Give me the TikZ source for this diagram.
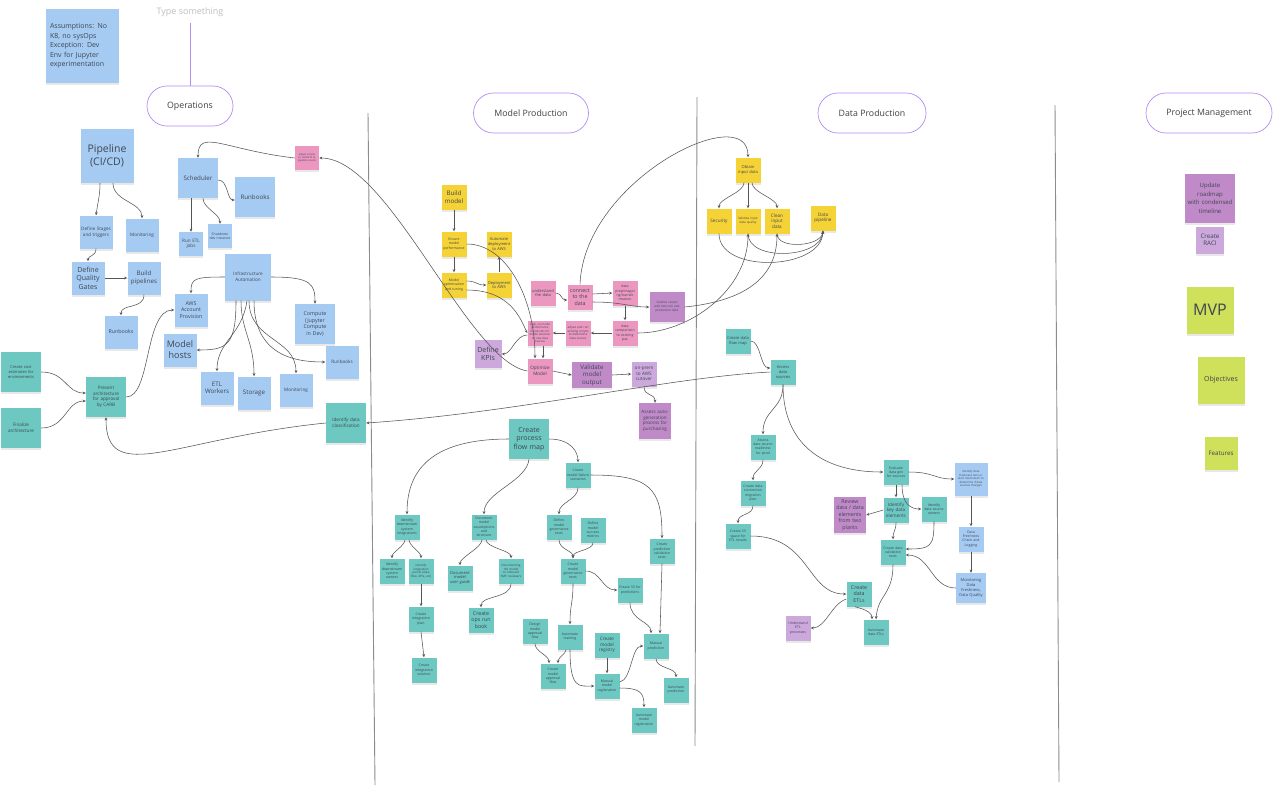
\documentclass[tikz,border=0pt]{standalone}
\usepackage{fontspec}
\setmainfont{Open Sans}
\usetikzlibrary{arrows.meta,shadows}

\definecolor{stickyblue}{HTML}{A6CBF3}
\definecolor{stickyteal}{HTML}{6CC8C1}
\definecolor{stickyyellow}{HTML}{F5D236}
\definecolor{stickypink}{HTML}{EB97C0}
\definecolor{stickyviolet}{HTML}{C08AC9}
\definecolor{stickylav}{HTML}{CDA8DC}
\definecolor{stickylime}{HTML}{CFE05A}
\definecolor{pillline}{HTML}{B48CF2}
\definecolor{linkgray}{HTML}{555555}
\definecolor{notetext}{HTML}{3E4652}

\hyphenpenalty=10000

\begin{document}
\begin{tikzpicture}[x=1pt, y=-1pt,
    link/.style={draw=linkgray, line width=0.55pt, -{Stealth[length=3.2pt,width=2.8pt]}},
    divider/.style={draw=black!45, line width=0.9pt},
    pill/.style={draw=pillline, line width=0.7pt, rounded corners=20pt, minimum height=40pt, text=black!75, font=\fontsize{8.8}{10.5}\selectfont},
    note/.style={inner sep=1.5pt, align=center, text=notetext, drop shadow={opacity=0.18, shadow xshift=0pt, shadow yshift=-2pt}},
    bl/.style={note, fill=stickyblue},
    tl/.style={note, fill=stickyteal},
    yl/.style={note, fill=stickyyellow},
    pk/.style={note, fill=stickypink},
    vi/.style={note, fill=stickyviolet},
    lv/.style={note, fill=stickylav},
    lm/.style={note, fill=stickylime},
    s24/.style={minimum width=24pt, minimum height=24pt, text width=21pt},
    s25/.style={minimum width=25pt, minimum height=25pt, text width=22pt},
    s33/.style={minimum width=33pt, minimum height=33pt, text width=30pt},
    s40/.style={minimum width=40pt, minimum height=40pt, text width=37pt},
    s47/.style={minimum width=47pt, minimum height=47pt, text width=44pt},
    f35/.style={font=\fontsize{3.5}{4.3}\selectfont},
    f4/.style={font=\fontsize{4}{4.9}\selectfont},
    f45/.style={font=\fontsize{4.6}{5.6}\selectfont},
    f5/.style={font=\fontsize{5.3}{6.5}\selectfont},
    f6/.style={font=\fontsize{6.2}{7.5}\selectfont},
    f7/.style={font=\fontsize{7}{8.5}\selectfont},
    f9/.style={font=\fontsize{9}{11}\selectfont},
    f10/.style={font=\fontsize{10.5}{12.5}\selectfont},
    f16/.style={font=\fontsize{16}{19}\selectfont}]

    \fill[white] (0,0) rectangle (1273,785);
    \useasboundingbox (0,0) rectangle (1273,785);

    \draw[divider] (368,113) -- (375,785);
    \draw[divider] (697,97) -- (695,746);
    \draw[divider] (1055,105) -- (1059,782);

    \node[bl, minimum width=73pt, minimum height=74pt, text width=64pt, align=left, font=\fontsize{7}{9.6}\selectfont] (assume) at (82,46) {Assumptions: No\\K8, no sysOps\\Exception: Dev\\Env for Jupyter\\experimentation};
    \node[font=\fontsize{9}{11}\selectfont, text=black!25] (typetxt) at (190,12) {Type something};
    \coordinate (tsend) at (190,23);
    \node[pill, minimum width=86pt] (ops) at (190,106) {Operations};
    \node[bl, minimum width=53pt, minimum height=54pt, text width=50pt, f10] (pipe) at (107,156) {Pipeline\\(CI/CD)};
    \node[bl, s40, f6] (sched) at (198,178) {Scheduler};
    \node[bl, s40, f6] (runA) at (255,197) {Runbooks};
    \node[pk, s24, font=\fontsize{2.6}{3.2}\selectfont] (adjpink) at (307,158) {adjust scripts to conform to pipeline needs};
    \node[bl, s33, f45] (stages) at (96,232) {Define Stages and triggers};
    \node[bl, s33, f45] (monA) at (142,235) {Monitoring};
    \node[bl, s33, f7] (gates) at (88,278) {Define Quality Gates};
    \node[bl, s33, f6] (build) at (144,278) {Build pipelines};
    \node[bl, s33, f5] (runB) at (121,332) {Runbooks};
    \node[bl, s24, f45] (etljobs) at (191,244) {Run ETL jobs};
    \node[bl, s24, f35] (shut) at (220,236) {Shutdown dev instance};
    \node[bl, minimum width=46pt, minimum height=47pt, text width=43pt, f45] (infra) at (248,277) {Infrastructure Automation};
    \node[bl, s33, f5] (aws) at (191,310) {AWS Account Provision};
    \node[bl, s40, f5] (compute) at (315,324) {Compute (Jupyter Compute in Dev)};
    \node[bl, s33, f9] (hosts) at (180,350) {Model hosts};
    \node[bl, s33, f45] (runC) at (342,362) {Runbooks};
    \node[bl, s33, f6] (etlw) at (217,388) {ETL Workers};
    \node[bl, s33, f6] (storage) at (254,393) {Storage};
    \node[bl, s33, f45] (monB) at (296,390) {Monitoring};
    \node[tl, s40, f4] (cost) at (21,372) {Create cost estimates for environments};
    \node[tl, s40, f45] (final) at (21,428) {Finalize architecture};
    \node[tl, s40, f45] (present) at (106,397) {Present architecture for approval by CARB};
    \node[tl, s40, f45] (classify) at (346,423) {Identify data classification};

    \node[pill, minimum width=115pt] (mprod) at (531,113) {Model Production};
    \node[yl, s25, f6] (bmodel) at (454,197) {Build model};
    \node[yl, s25, f35] (ensure) at (454,244) {Ensure model performance};
    \node[yl, s25, f4] (autodep) at (499,244) {Automate deployment to AWS};
    \node[yl, s25, f35] (mopt) at (454,285) {Model optimization and tuning};
    \node[yl, s25, f4] (deploy) at (499,285) {Deployment to AWS};
    \node[pk, s25, f4] (underst) at (543,293) {understand the data};
    \node[pk, s25, f5] (connect) at (580,297) {connect to the data};
    \node[pk, s25, f35] (prep) at (625,293) {data\\prep/mappi\\ng/transfo\\rmation};
    \node[vi, minimum width=35pt, minimum height=30pt, text width=32pt, font=\fontsize{3}{3.8}\selectfont] (sanit) at (667,307) {Sanitize scripts with test non and production data};
    \node[pk, s25, f35] (compare) at (625,333) {data comparison to existing pas};
    \node[pk, s25, font=\fontsize{3}{3.7}\selectfont] (adjust) at (578,333) {adjust and run existing scripts to determine data source};
    \node[pk, s25, font=\fontsize{2.8}{3.5}\selectfont] (align) at (540,333) {Align on model performance thresholds for model selection on new data sources};
    \node[lv, minimum width=27pt, minimum height=28pt, text width=24pt, f7] (kpis) at (488,354) {Define KPIs};
    \node[pk, s25, f45] (optim) at (540,371) {Optimize Model};
    \node[vi, minimum width=40pt, minimum height=26pt, text width=37pt, f6] (validm) at (592,375) {Validate model output};
    \node[lv, s25, f45] (cutover) at (644,374) {on-prem to AWS cutover};
    \node[vi, minimum width=32pt, minimum height=36pt, text width=29pt, f45] (assess) at (655,421) {Assess auto-generation process for purchasing};

    \node[tl, s40, f7] (cpfm) at (529,439) {Create process flow map};
    \node[tl, s25, f35] (fail) at (578,475) {Create model failure scenarios};
    \node[tl, s25, f35] (dsint) at (407,527) {Identify downstream system integrations};
    \node[tl, s25, f35] (docass) at (484,527) {Document model assumptions and structure};
    \node[tl, s25, f35] (govdef) at (559,527) {Define model governance tests};
    \node[tl, s25, f35] (succ) at (593,530) {Define model success metrics};
    \node[tl, s25, f35] (predval) at (662,551) {Create prediction validation tests};
    \node[tl, s25, f35] (owners) at (392,571) {Identify downstream system owners};
    \node[tl, s25, font=\fontsize{3}{3.7}\selectfont] (intpts) at (421,571) {Identify integration points (data flow, APIs, etc)};
    \node[tl, s25, f4] (userguide) at (460,578) {Document model user guide};
    \node[tl, s25, font=\fontsize{3}{3.7}\selectfont] (onboard) at (511,571) {Documenting the model to onboard SME reviewers};
    \node[tl, s25, f35] (govcr) at (573,571) {Create model governance tests};
    \node[tl, s25, f35] (s3pred) at (630,590) {Create S3 for predictions};
    \node[tl, s25, f35] (intplan) at (421,619) {Create integration plan};
    \node[tl, s25, f5] (runbook) at (481,620) {Create ops run book};
    \node[tl, s25, f35] (intsol) at (424,670) {Create integration solution};
    \node[tl, s25, f35] (design) at (535,631) {Design model approval flow};
    \node[tl, s25, f35] (autotrain) at (570,637) {Automate training};
    \node[tl, s25, f45] (registry) at (607,645) {Create model registry};
    \node[tl, s25, f35] (manpred) at (656,646) {Manual prediction};
    \node[tl, s25, f35] (approval) at (553,676) {Create model approval flow};
    \node[tl, s25, f35] (manreg) at (607,686) {Manual model registration};
    \node[tl, s25, f35] (autopred) at (676,690) {Automate prediction};
    \node[tl, s25, f35] (autoreg) at (644,720) {Automate model registration};

    \node[pill, minimum width=108pt] (dprod) at (872,113) {Data Production};
    \node[yl, s25, f4] (obtain) at (748,170) {Obtain input data};
    \node[yl, s25, f45] (secur) at (719,221) {Security};
    \node[yl, s25, font=\fontsize{3}{3.7}\selectfont] (vinput) at (748,221) {Validate input data quality};
    \node[yl, s25, f45] (clean) at (777,221) {Clean input data};
    \node[yl, s25, f45] (dpipe) at (823,218) {Data pipeline};
    \node[tl, s25, f4] (dflow) at (738,341) {Create data flow map};
    \node[tl, s25, f4] (access) at (783,372) {Access data sources};
    \node[tl, s25, f35] (ready) at (763,447) {Assess data source readiness for prod};
    \node[tl, s25, f35] (migr) at (753,493) {Create data connection migration plan};
    \node[tl, s25, f35] (s3etl) at (738,536) {Create S3 space for ETL results};
    \node[tl, s25, f35] (evalgov) at (896,472) {Evaluate data gov for sources};
    \node[bl, s33, font=\fontsize{2.8}{3.5}\selectfont] (fresh) at (971,479) {Identify data freshness tiers or alert mechanism to determine if data sources changes};
    \node[vi, minimum width=32pt, minimum height=36pt, text width=29pt, f5] (review) at (850,515) {Review data / data elements from two plants};
    \node[tl, s25, f45] (keyel) at (896,510) {Identify key data elements};
    \node[tl, s25, f35] (srcown) at (934,509) {Identify data source owners};
    \node[tl, s25, f35] (dvalid) at (893,552) {Create data validation tests};
    \node[bl, s25, f35] (fcheck) at (971,539) {Data Freshness Check and Logging};
    \node[bl, minimum width=30pt, minimum height=30pt, text width=27pt, f4] (monfresh) at (971,588) {Monitoring Data Freshness, Data Quality};
    \node[tl, s25, f5] (etls) at (859,594) {Create data ETLs};
    \node[lv, s25, f35] (uetl) at (798,628) {Understand ETL processes};
    \node[tl, s25, f35] (autoetl) at (876,632) {Automate data ETLs};

    \node[pill, minimum width=126pt] (pm) at (1209,113) {Project Management};
    \node[vi, minimum width=50pt, minimum height=49pt, text width=46pt, font=\fontsize{6}{8.5}\selectfont] (roadmap) at (1210,198) {Update roadmap with condensed timeline};
    \node[lv, minimum width=27pt, minimum height=27pt, text width=25pt, f6] (raci) at (1210,240) {Create RACI};
    \node[lm, s47, f16] (mvp) at (1210,310) {MVP};
    \node[lm, s47, f7] (objectives) at (1221,380) {Objectives};
    \node[lm, s33, f6] (features) at (1221,453) {Features};

    \draw[draw=pillline, line width=0.9pt] (tsend) -- (ops.north);

    \draw[link] (adjpink.west) .. controls +(-70,-8) and +(0,-30) .. (sched.north);
    \draw[link] (optim.west) .. controls +(-60,-10) and +(70,0) .. (adjpink.east);
    \draw[link] ([xshift=-7pt]pipe.south) .. controls +(0,12) and +(2,-14) .. (stages.north);
    \draw[link] ([xshift=6pt]pipe.south) .. controls +(0,18) and +(0,-16) .. (monA.north);
    \draw[link] (stages.south) .. controls +(0,8) and +(0,-6) .. (gates.north);
    \draw[link] (gates.east) -- (build.west);
    \draw[link] (build.south) .. controls +(0,15) and +(0,-12) .. (runB.north);
    \draw[link] ([xshift=-7pt]sched.south) -- (etljobs.north);
    \draw[link] ([xshift=5pt]sched.south) .. controls +(0,10) and +(0,-10) .. (shut.north);
    \draw[link] ([yshift=-2pt]sched.east) .. controls +(10,0) and +(-8,0) .. ([yshift=-3pt]runA.west);
    \draw[link] (infra.west) .. controls +(-30,0) and +(0,-15) .. (aws.north);
    \draw[link] (infra.east) .. controls +(40,0) and +(0,-20) .. (compute.north);
    \draw[link] ([xshift=-12pt]infra.south) .. controls +(0,45) and +(30,0) .. (hosts.east);
    \draw[link] ([xshift=-1pt]infra.south) .. controls +(-5,35) and +(0,-30) .. (etlw.north);
    \draw[link] ([xshift=-7pt]infra.south) .. controls +(0,30) and +(0,-35) .. (storage.north);
    \draw[link] ([xshift=1pt]infra.south) .. controls +(0,40) and +(0,-35) .. (monB.north);
    \draw[link] ([xshift=6pt]infra.south) .. controls +(0,55) and +(-30,0) .. (runC.west);
    \draw[link] (cost.east) .. controls +(25,0) and +(-20,0) .. ([yshift=4pt]present.west);
    \draw[link] (final.east) .. controls +(25,0) and +(-20,0) .. ([yshift=-4pt]present.west);
    \draw[link] (present.east) .. controls +(25,0) and +(-30,0) .. (aws.west);
    \draw[link] (classify.west) .. controls +(-150,15) and +(0,70) .. (present.south);
    \draw[link] (access.west) .. controls +(-100,5) and +(150,-10) .. (classify.east);

    \draw[link] (bmodel.south) -- (ensure.north);
    \draw[link] (ensure.south) -- (mopt.north);
    \draw[link] ([yshift=4pt]mopt.east) .. controls +(10,0) and +(-10,0) .. (deploy.west);
    \draw[link] (deploy.north) -- (autodep.south);
    \draw[link] (ensure.east) .. controls +(40,0) and +(0,-60) .. ([xshift=-5pt]optim.north);
    \draw[link] ([yshift=-5pt]mopt.east) .. controls +(45,0) and +(-6,-12) .. (align.west);
    \draw[link] (underst.east) .. controls +(6,0) and +(-6,0) .. ([yshift=-3pt]connect.west);
    \draw[link] ([yshift=3pt]connect.east) -- (prep.west);
    \draw[link] ([yshift=-5pt]connect.east) .. controls +(30,0) and +(-20,0) .. (sanit.west);
    \draw[link] (prep.south) -- (compare.north);
    \draw[link] (compare.west) -- (adjust.east);
    \draw[link] (adjust.west) -- (align.east);
    \draw[link] ([yshift=-2pt]align.west) .. controls +(-12,0) and +(10,0) .. (kpis.east);
    \draw[link] ([xshift=3pt]align.south) -- ([xshift=3pt]optim.north);
    \draw[link] (optim.east) -- (validm.west);
    \draw[link] (validm.east) -- (cutover.west);
    \draw[link] (cutover.south) .. controls +(0,10) and +(0,-10) .. (assess.north);
    \draw[link] (connect.north) .. controls +(4,-105) and +(0,-58) .. (obtain.north);
    \draw[link] (compare.east) .. controls +(52,0) and +(0,56) .. (vinput.south);
    \draw[link] (sanit.east) .. controls +(50,-5) and +(0,50) .. (clean.south);

    \draw[link] (cpfm.west) .. controls +(-70,0) and +(0,-50) .. (dsint.north);
    \draw[link] (cpfm.south) .. controls +(-2,22) and +(0,-22) .. (docass.north);
    \draw[link] (cpfm.east) .. controls +(22,0) and +(0,-10) .. (fail.north);
    \draw[link] (fail.south) .. controls +(0,12) and +(0,-12) .. (govdef.north);
    \draw[link] (fail.east) .. controls +(60,0) and +(0,-50) .. (predval.north);
    \foreach \n/\s in {owners/-2pt, intpts/2pt}
        \draw[link] ([xshift=\s]dsint.south) .. controls +(0,6) and +(0,-6) .. (\n.north);
    \draw[link] (intpts.south) -- (intplan.north);
    \draw[link] (intplan.south) -- (intsol.north);
    \foreach \n/\s in {userguide/-2pt, onboard/2pt}
        \draw[link] ([xshift=\s]docass.south) .. controls +(0,8) and +(0,-8) .. (\n.north);
    \draw[link] (onboard.south) .. controls +(0,15) and +(0,-12) .. (runbook.north);
    \draw[link] (govdef.south) .. controls +(0,10) and +(0,-8) .. (govcr.north);
    \draw[link] (succ.south) .. controls +(0,8) and +(0,-8) .. (govcr.north);
    \draw[link] (govcr.east) .. controls +(15,0) and +(-15,0) .. (s3pred.west);
    \draw[link] (govcr.south) .. controls +(0,20) and +(0,-20) .. (autotrain.north);
    \draw[link] (s3pred.south) .. controls +(0,18) and +(0,-12) .. ([xshift=-5pt]manpred.north);
    \draw[link] (predval.south) -- ([xshift=4pt]manpred.north);
    \draw[link] (design.south) .. controls +(0,8) and +(0,-8) .. ([xshift=-4pt]approval.north);
    \draw[link] ([xshift=-4pt]autotrain.south) .. controls +(0,4) and +(0,-6) .. ([xshift=5pt]approval.north);
    \draw[link] (autotrain.south) .. controls +(0,40) and +(-15,0) .. (manreg.west);
    \draw[link] (registry.south) -- (manreg.north);
    \draw[link] ([yshift=4pt]manreg.east) .. controls +(12,-2) and +(-12,0) .. (manpred.west);
    \draw[link] ([yshift=-2pt]manreg.east) .. controls +(20,0) and +(0,-15) .. (autoreg.north);
    \draw[link] (manpred.south) .. controls +(0,10) and +(0,-10) .. (autopred.north);

    \foreach \n/\s in {secur/-4pt, vinput/0pt, clean/4pt}
        \draw[link] ([xshift=\s]obtain.south) .. controls +(0,10) and +(0,-10) .. (\n.north);
    \foreach \n/\d in {secur/40, vinput/28, clean/16}
        \draw[link] (\n.south) .. controls +(0,\d) and +(-2,\d) .. (dpipe.south);
    \draw[link] (dflow.east) .. controls +(10,0) and +(-10,0) .. ([yshift=4pt]access.west);
    \draw[link] (access.south) .. controls +(0,25) and +(0,-25) .. (ready.north);
    \draw[link] (access.south) .. controls +(0,60) and +(-60,0) .. (evalgov.west);
    \draw[link] (ready.south) .. controls +(0,10) and +(0,-10) .. (migr.north);
    \draw[link] (migr.south) .. controls +(0,10) and +(0,-10) .. (s3etl.north);
    \draw[link] (s3etl.east) .. controls +(60,0) and +(-40,0) .. (etls.west);
    \draw[link] ([yshift=-5pt]etls.west) .. controls +(-15,5) and +(15,0) .. (uetl.east);
    \draw[link] (evalgov.east) .. controls +(25,0) and +(-20,0) .. (fresh.west);
    \draw[link] (evalgov.south) .. controls +(0,5) and +(0,-5) .. (keyel.north);
    \draw[link] ([xshift=6pt]evalgov.south) .. controls +(0,20) and +(-10,0) .. (srcown.west);
    \draw[link] (keyel.west) -- (review.east);
    \draw[link] (keyel.south) .. controls +(0,8) and +(0,-8) .. (dvalid.north);
    \draw[link] (srcown.south) .. controls +(0,25) and +(25,0) .. ([yshift=3pt]dvalid.east);
    \draw[link] (fresh.south) -- (fcheck.north);
    \draw[link] (fcheck.south) -- (monfresh.north);
    \draw[link] (monfresh.west) .. controls +(-25,0) and +(25,0) .. ([yshift=-3pt]dvalid.east);
    \draw[link] (dvalid.south) .. controls +(0,30) and +(2,-25) .. (autoetl.north);
    \draw[link] ([xshift=-4pt]etls.south) .. controls +(12,3) and +(0,-6) .. ([xshift=-4pt]autoetl.north);
\end{tikzpicture}
\end{document}
